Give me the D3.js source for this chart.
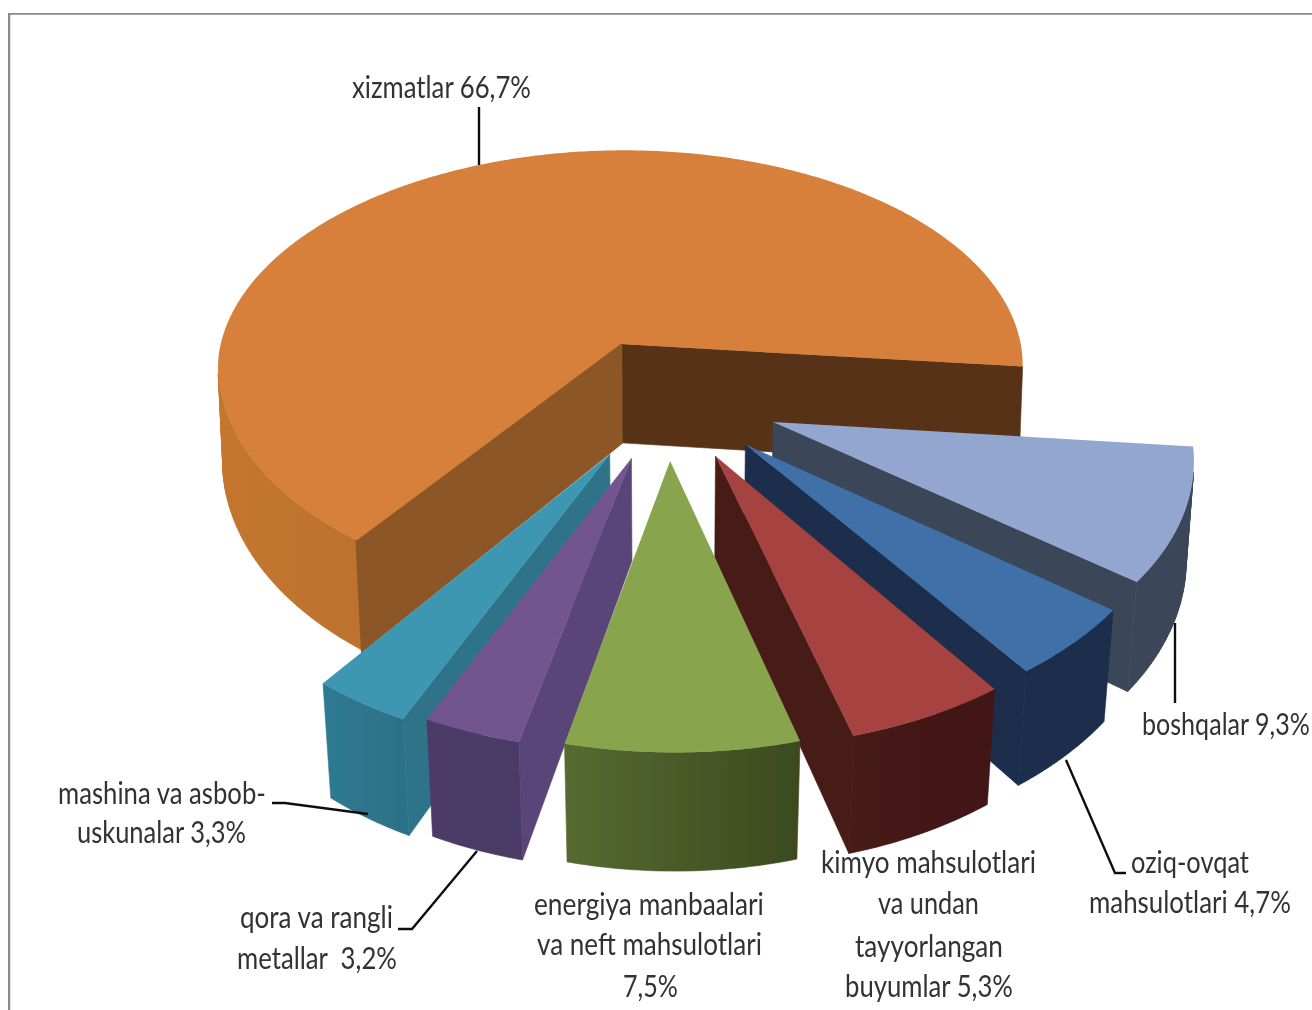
<!DOCTYPE html>
<html><head><meta charset="utf-8">
<script src="https://cdn.jsdelivr.net/npm/d3@7/dist/d3.min.js"></script>
<style>html,body{margin:0;padding:0;background:#fff;overflow:hidden}svg{display:block}text{font-family:Lato,"Open Sans",sans-serif;fill:#333}</style>
</head><body><svg id="c" width="1312" height="1010"></svg>
<script>
const categories = ["xizmatlar","boshqalar","oziq-ovqat mahsulotlari","kimyo mahsulotlari va undan tayyorlangan buyumlar","energiya manbaalari va neft mahsulotlari","qora va rangli metallar","mashina va asbob-uskunalar"];
const values = [66.7,9.3,4.7,5.3,7.5,3.2,3.3];
const topColors  = ["#D6803A","#92A6CF","#4170A8","#A6423F","#88A44D","#72558F","#3E97B2"];
const wallStart  = ["#8D5727","#3A4658","#1A2E4C","#461A18","#4F602C","#5A4478","#2E7388"];
const wallEnd    = ["#583213","#3A4658","#1A2E4C","#461A18","#4F602C","#4A3A66","#2E7388"];
const outerLeft  = ["#C4762F","#3A4658","#1A2E4C","#461A18","#566A30","#4B3A66","#2F7A92"];
const outerRight = ["#9A5E28","#3A4658","#1A2E4C","#421815","#3C4A1F","#4A3A66","#2C7086"];
const nearStretch = [1.07,1,1,1.01,1,1.01,1.035];
const narrowing   = [0.5,1,1,1,1,1,1];
const wallScale   = [1.03,1,1,1,1,1,1];
const labelLines = [
 [["xizmatlar 66,7%",352,531,98]],
 [["boshqalar 9,3%",1142,1310,735]],
 [["oziq-ovqat",1131,1249,873],["mahsulotlari 4,7%",1089,1291,913]],
 [["kimyo mahsulotlari",821,1036,873],["va undan",878,979,914],["tayyorlangan",855,1003,957],["buyumlar 5,3%",845,1013,997]],
 [["energiya manbaalari",534,764,915],["va neft mahsulotlari",537,762,955],["7,5%",623,678,997]],
 [["qora va rangli",240,393,928],["metallar  3,2%",237,397,969]],
 [["mashina va asbob-",58,266,804],["uskunalar 3,3%",77,246,843]]
];
const leaders = [
 [[479,107],[479,165]],
 [[1175,623],[1175,703]],
 [[1066,760],[1115,873],[1126,873]],
 [],[],
 [[477,851],[412,929],[398,929]],
 [[272,803],[285,803],[368,814]]
];

const svg = d3.select("#c");
const cy=398, RX=412, RY=220, EXPLODE=0.276, HEIGHT=99, kH=0.13;
const persp=v=>1+0.126*v-0.029*v*v;
const nearT=v=>Math.max(0,Math.min(1,(0.2-v)/1.2));
const top3=(u,v,i)=>{
  const t=nearT(v)*narrowing[i], p=persp(v);
  const dy=RY*v/p*(v<0?nearStretch[i]:1);
  return [665.5+7*t+RX*(1-0.023*t)*u/p, cy-dy];
};
const bot3=(u,v,i)=>{
  const p=top3(u,v,i), c=669, s=0.988+0.01*v;
  return [c+(p[0]-c)*s, p[1]+wallScale[i]*HEIGHT/(1+kH*v)];
};

const arcs=d3.pie().sort(null).startAngle(216*Math.PI/180).endAngle((216+360)*Math.PI/180)(values);
const area=pts=>d3.polygonArea(pts);
const line=d3.line();
const defs=svg.append("defs");
defs.append("filter").attr("id","soft").attr("x",0).attr("y",0).attr("width",1).attr("height",1)
  .append("feGaussianBlur").attr("stdDeviation",0.6);

svg.append("rect").attr("width",1312).attr("height",1010).attr("fill","#fff");
const root=svg.append("g").attr("filter","url(#soft)");
root.append("rect").attr("x",8.5).attr("y",13).attr("width",1340).attr("height",1040).attr("fill","#fff").attr("stroke","#8a8a8a").attr("stroke-width",3.5);

const slices=arcs.map((d,i)=>{
  const m=(d.startAngle+d.endAngle)/2;
  const ex=EXPLODE*Math.sin(m), ey=EXPLODE*Math.cos(m);
  const uv=(a)=>[ex+Math.sin(a),ey+Math.cos(a)];
  const n=Math.max(8,Math.ceil((d.endAngle-d.startAngle)/0.01));
  const angs=d3.range(n+1).map(j=>d.startAngle+(d.endAngle-d.startAngle)*j/n);
  return {i,ex,ey,uv,angs};
}).sort((a,b)=>b.ey-a.ey);

slices.forEach(s=>{
  const g=root.append("g");
  const {i,ex,ey,uv,angs}=s;
  const A=top3(ex,ey,i), B=bot3(ex,ey,i);
  const T=angs.map(a=>{const q=uv(a);return top3(q[0],q[1],i);});
  const O=angs.map(a=>{const q=uv(a);return bot3(q[0],q[1],i);});
  const xs=d3.extent(T.concat(O),p=>p[0]);
  const gid="g"+i;
  const lg=defs.append("linearGradient").attr("id",gid).attr("gradientUnits","userSpaceOnUse").attr("x1",xs[0]).attr("x2",xs[1]).attr("y1",0).attr("y2",0);
  lg.append("stop").attr("offset",0).attr("stop-color",outerLeft[i]);
  lg.append("stop").attr("offset",1).attr("stop-color",outerRight[i]);
  let wall="";
  for(let j=0;j<T.length-1;j++){
    const q=[T[j],T[j+1],O[j+1],O[j]];
    if(area(q)>0) wall+=line(q)+"Z";
  }
  g.append("path").attr("d",wall).attr("fill",`url(#${gid})`).attr("stroke",`url(#${gid})`).attr("stroke-width",0.6);
  const sw=[A,T[0],O[0],B], ew=[A,T[T.length-1],O[O.length-1],B];
  if(area(ew)<0) g.append("path").attr("d",line(ew)+"Z").attr("fill",wallEnd[i]).attr("stroke",wallEnd[i]).attr("stroke-width",0.6);
  if(area(sw)>0) g.append("path").attr("d",line(sw)+"Z").attr("fill",wallStart[i]).attr("stroke",wallStart[i]).attr("stroke-width",i===0?3:0.6);
  g.append("path").attr("d",line([A].concat(T))+"Z").attr("fill",topColors[i]);
});

leaders.forEach(pts=>{ if(pts.length) root.append("path").attr("d",line(pts)).attr("fill","none").attr("stroke","#111").attr("stroke-width",2.4); });
labelLines.forEach(ls=>ls.forEach(([t,x0,x1,y])=>{
  const el=root.append("text").attr("font-size",31).style("white-space","pre").text(t);
  const w=el.node().getComputedTextLength();
  el.attr("transform",`translate(${x0},${y}) scale(${(x1-x0)/w},1)`);
}));
</script></body></html>
